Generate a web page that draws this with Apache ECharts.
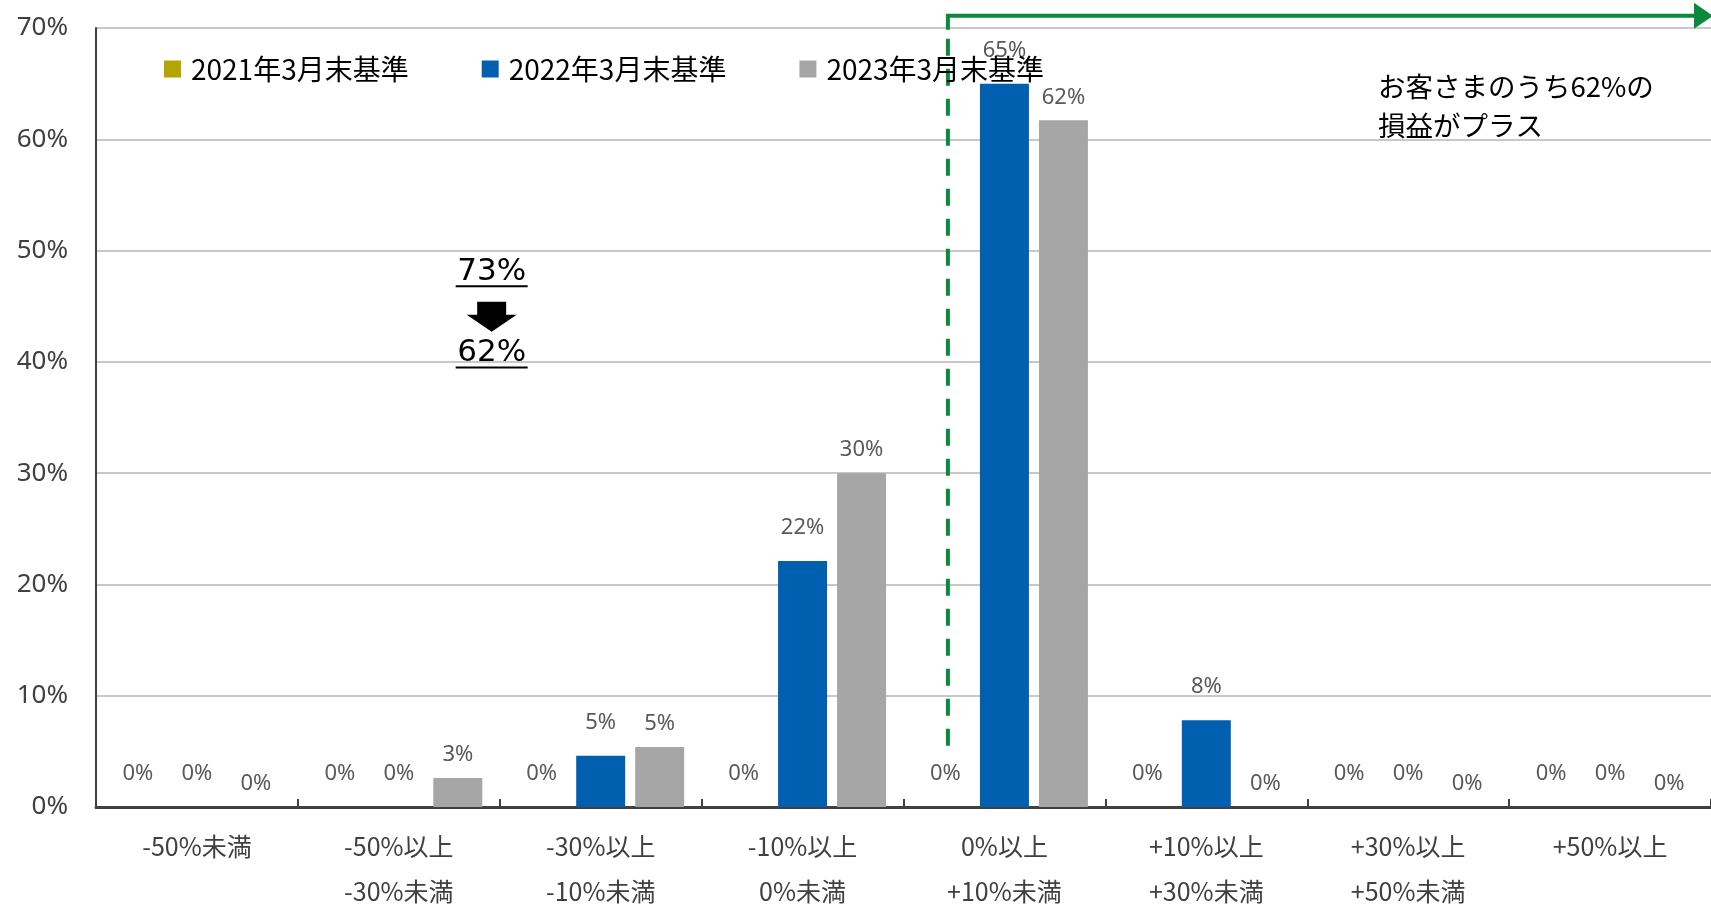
<!DOCTYPE html>
<html>
<head>
<meta charset="utf-8">
<script src="https://cdn.jsdelivr.net/npm/echarts@6/dist/echarts.min.js"></script>
<style>
html,body{margin:0;padding:0;background:#fff;}
#chart{width:1711px;height:914px;}
</style>
</head>
<body>
<div id="chart"></div>
<script>
const categories = ['-50%未満', '-50%以上\n-30%未満', '-30%以上\n-10%未満', '-10%以上\n0%未満', '0%以上\n+10%未満', '+10%以上\n+30%未満', '+30%以上\n+50%未満', '+50%以上'];
const seriesNames = ['2021年3月末基準', '2022年3月末基準', '2023年3月末基準'];
const values2021 = [0, 0, 0, 0, 0, 0, 0, 0];
const values2022 = [0, 0, 4.6, 22.1, 65.0, 7.8, 0, 0];
const values2023 = [0, 2.6, 5.4, 30.0, 61.7, 0, 0, 0];
const yTicks = [0, 10, 20, 30, 40, 50, 60, 70];
const noteText = ['お客さまのうち62%の', '損益がプラス'];
const changeFrom = '73%';
const changeTo = '62%';

const colors = ['#b3a600', '#005fae', '#a6a6a6'];
const CJK = '"Noto Sans CJK JP", "Noto Sans", sans-serif';

const chart = echarts.init(document.getElementById('chart'));

function mkSeries(name, data, color, dist) {
  return {
    name: name,
    type: 'bar',
    data: data,
    barWidth: 49,
    barGap: '20.4%',
    itemStyle: { color: color },
    label: {
      show: true,
      position: 'top',
      distance: dist,
      color: '#595959',
      fontSize: 22,
      fontFamily: '"Noto Sans", sans-serif',
      formatter: p => Math.round(p.value) + '%'
    },
    emphasis: { disabled: true }
  };
}

chart.setOption({
  animation: false,
  backgroundColor: '#fff',
  grid: { left: 96, top: 28, width: 1620, bottom: 99, containLabel: false },
  legend: {
    data: seriesNames,
    left: 164,
    top: 55,
    padding: 0,
    icon: 'rect',
    itemWidth: 17,
    itemHeight: 17,
    itemGap: 73,
    textStyle: { fontSize: 28, color: '#000', fontFamily: CJK, padding: [0, 0, 0, 5] }
  },
  xAxis: {
    type: 'category',
    data: categories,
    axisLine: { lineStyle: { color: '#404040', width: 3 } },
    axisTick: { show: true, inside: true, length: 8, lineStyle: { color: '#404040', width: 2 } },
    axisLabel: { fontSize: 25, color: '#404040', fontFamily: CJK, lineHeight: 45, margin: 17, interval: 0 }
  },
  yAxis: {
    type: 'value',
    min: yTicks[0],
    max: yTicks[yTicks.length - 1],
    interval: 10,
    axisLine: { show: true, lineStyle: { color: '#404040', width: 2 } },
    axisTick: { show: false },
    axisLabel: { fontSize: 26, color: '#404040', fontFamily: '"Noto Sans", sans-serif', margin: 28, formatter: '{value}%' },
    splitLine: { lineStyle: { color: '#c8c8c8', width: 2 } }
  },
  series: [
    mkSeries(seriesNames[0], values2021, colors[0], 22),
    mkSeries(seriesNames[1], values2022, colors[1], 22),
    mkSeries(seriesNames[2], values2023, colors[2], 12)
  ]
});

function drawAnnotations() {
  const c4 = chart.convertToPixel({ xAxisIndex: 0 }, categories[4]);
  const c0 = chart.convertToPixel({ xAxisIndex: 0 }, categories[0]);
  const c1 = chart.convertToPixel({ xAxisIndex: 0 }, categories[1]);
  const catW = c1 - c0;
  const lineX = c4 - 0.28 * catW;
  const py = v => chart.convertToPixel({ yAxisIndex: 0 }, v);
  const yBottom = py(5.5);
  const yTop = py(71.1);
  const W = chart.getWidth();
  const green = '#0a8a3c';
  const ax = c1 + 0.46 * catW;
  const yA = py(48.1);
  const yAu = py(46.8);
  const yArrTop = py(45.4);
  const yB = py(40.8);
  const yBu = py(39.5);
  const mono = '"DejaVu Sans", sans-serif';
  chart.setOption({
    graphic: [
      { type: 'line', shape: { x1: lineX, y1: yBottom, x2: lineX, y2: yTop + 12 }, style: { stroke: green, lineWidth: 4, lineDash: [17, 13] }, silent: true },
      { type: 'polyline', shape: { points: [[lineX, yTop + 14], [lineX, yTop], [W - 16, yTop]] }, style: { stroke: green, lineWidth: 4, fill: null }, silent: true },
      { type: 'polygon', shape: { points: [[W - 17, yTop - 13], [W - 17, yTop + 13], [W + 2, yTop]] }, style: { fill: green }, silent: true },
      { type: 'text', x: 1378, y: 87, style: { text: noteText[0], fontSize: 27.5, fontFamily: CJK, fill: '#000', textVerticalAlign: 'middle' }, silent: true },
      { type: 'text', x: 1378, y: 126, style: { text: noteText[1], fontSize: 27.5, fontFamily: CJK, fill: '#000', textVerticalAlign: 'middle' }, silent: true },
      { type: 'text', x: ax, y: yA, style: { text: changeFrom, fontSize: 31, fontFamily: mono, fill: '#000', textAlign: 'center', textVerticalAlign: 'middle' }, silent: true },
      { type: 'line', shape: { x1: ax - 36, y1: yAu, x2: ax + 36, y2: yAu }, style: { stroke: '#000', lineWidth: 2 }, silent: true },
      { type: 'polygon', shape: { points: [[ax - 14.5, yArrTop], [ax + 14.5, yArrTop], [ax + 14.5, yArrTop + 13], [ax + 25, yArrTop + 13], [ax, yArrTop + 30], [ax - 25, yArrTop + 13], [ax - 14.5, yArrTop + 13]] }, style: { fill: '#000' }, silent: true },
      { type: 'text', x: ax, y: yB, style: { text: changeTo, fontSize: 31, fontFamily: mono, fill: '#000', textAlign: 'center', textVerticalAlign: 'middle' }, silent: true },
      { type: 'line', shape: { x1: ax - 36, y1: yBu, x2: ax + 36, y2: yBu }, style: { stroke: '#000', lineWidth: 2 }, silent: true }
    ]
  });
}
drawAnnotations();
</script>
</body>
</html>
